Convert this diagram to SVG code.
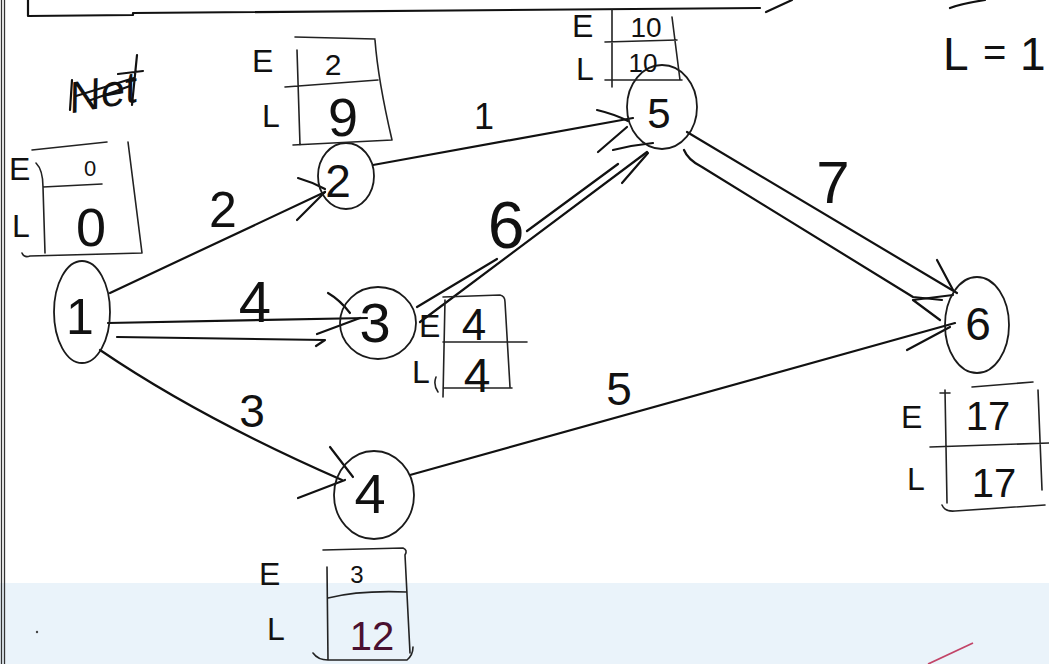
<svg xmlns="http://www.w3.org/2000/svg" width="1049" height="664" viewBox="0 0 1049 664">
  <defs>
    <style>
      .ink { fill: none; stroke: #111; stroke-width: 2.2; stroke-linecap: round; stroke-linejoin: round; }
      .thin { fill: none; stroke: #222; stroke-width: 1.6; stroke-linecap: round; stroke-linejoin: round; }
      .node { fill: none; stroke: #1a1a1a; stroke-width: 1.8; }
      text { font-family: "Liberation Sans", "DejaVu Sans", sans-serif; fill: #111; }
      .lbl { text-anchor: middle; }
      .let { font-size: 32px; }
    </style>
  </defs>

  <!-- page background and scanned lower band -->
  <rect x="0" y="0" width="1049" height="664" fill="#ffffff"/>
  <rect x="0" y="583" width="1049" height="81" fill="#eaf3fa"/>

  <!-- page frame fragments -->
  <g id="frame">
    <line x1="1.5" y1="0" x2="1.5" y2="664" stroke="#333" stroke-width="1.3"/>
    <line x1="4.5" y1="0" x2="4.5" y2="664" stroke="#333" stroke-width="1.3"/>
    <path class="ink" d="M28,0 L28,16 L133,15 L133,13 L760,8" stroke-width="2.6"/>
    <path class="ink" d="M766,12 L792,0"/>
    <line x1="928" y1="664" x2="973" y2="643" stroke="#c24468" stroke-width="1.8"/>
    <circle cx="37" cy="632" r="1.2" fill="#444"/>
  </g>

  <!-- crossed-out word -->
  <g id="note">
    <text x="68" y="108" font-size="44" font-style="italic" transform="rotate(-10 100 90)">Net</text>
    <path class="ink" d="M72,80 L70,110 M76,96 L134,78 M88,101 L130,86 M137,55 L132,105 M118,74 L143,71"/>
  </g>

  <!-- top-right notes, running off the page edge -->
  <g id="side-notes">
    <path class="ink" d="M950,8 Q960,4 985,0"/>
    <text x="943" y="70" font-size="46">L</text>
    <text x="983" y="66" font-size="40">=</text>
    <text x="1020" y="70" font-size="46">1</text>
  </g>

  <!-- connectors -->
  <g id="connectors">
    <!-- 1 -> 2 -->
    <path class="ink" d="M110,293 L325,192"/>
    <path class="ink" d="M298,178 Q312,182 325,189 M297,220 L325,192"/>
    <text class="lbl" x="223" y="227" font-size="50">2</text>

    <!-- 1 -> 3 (critical, double) -->
    <path class="ink" d="M108,323 L367,318"/>
    <path class="ink" d="M117,337 L325,340 L316,346"/>
    <path class="ink" d="M328,293 Q340,300 350,313 M317,334 L360,318"/>
    <text class="lbl" x="255" y="322" font-size="58">4</text>

    <!-- 1 -> 4 -->
    <path class="ink" d="M100,350 Q200,418 342,480"/>
    <path class="ink" d="M330,447 L353,477 M298,498 L345,480"/>
    <text class="lbl" x="252" y="427" font-size="46">3</text>

    <!-- 2 -> 5 -->
    <path class="ink" d="M373,165 L633,118"/>
    <path class="ink" d="M597,110 Q614,114 628,121"/>
    <text class="lbl" x="484" y="129" font-size="36">1</text>

    <!-- 3 -> 5 (critical, double) -->
    <path class="ink" d="M417,307 L497,259 M527,231 L618,164"/>
    <path class="ink" d="M420,322 L647,152"/>
    <path class="ink" d="M598,152 L627,127 M613,150 Q633,145 653,143 M622,183 L648,153"/>
    <text class="lbl" x="506" y="248" font-size="66">6</text>

    <!-- 5 -> 6 (critical, double) -->
    <path class="ink" d="M687,132 L957,293"/>
    <path class="ink" d="M684,150 Q688,160 702,167 L913,297 L942,300"/>
    <path class="ink" d="M937,260 L953,290 M913,300 L953,295 M913,300 L940,320"/>
    <text class="lbl" x="833" y="203" font-size="60">7</text>

    <!-- 4 -> 6 -->
    <path class="ink" d="M410,475 L955,323"/>
    <path class="ink" d="M907,350 L950,327"/>
    <text class="lbl" x="619" y="405" font-size="46">5</text>
  </g>

  <!-- event 1 -->
  <g id="node-1">
    <ellipse class="node" cx="82" cy="312" rx="28" ry="51"/>
    <text class="lbl" x="80" y="334" font-size="50">1</text>
    <path class="thin" d="M32,150 L107,142 M128,142 L142,253 M22,253 Q24,258 30,256 L142,253 M36,163 Q43,170 43,187 L45,253 M43,187 L102,184"/>
    <text class="let" x="9" y="180">E</text>
    <text class="lbl" x="90" y="176" font-size="22">0</text>
    <text class="let" x="12" y="237">L</text>
    <text class="lbl" x="91" y="246" font-size="54">0</text>
  </g>

  <!-- event 2 -->
  <g id="node-2">
    <ellipse class="node" cx="346" cy="176" rx="28" ry="33"/>
    <text class="lbl" x="338" y="197" font-size="46">2</text>
    <path class="thin" d="M295,37 L375,39 M375,40 Q378,80 392,140 M285,87 L378,80 M297,50 L300,145 M293,145 L392,140"/>
    <text class="let" x="252" y="72">E</text>
    <text class="lbl" x="333" y="75" font-size="30">2</text>
    <text class="let" x="262" y="127" font-size="28">L</text>
    <text class="lbl" x="343" y="136" font-size="54">9</text>
  </g>

  <!-- event 3 -->
  <g id="node-3">
    <ellipse class="node" cx="378" cy="323" rx="38" ry="36"/>
    <text class="lbl" x="375" y="342" font-size="56">3</text>
    <path class="thin" d="M443,297 L500,295 Q505,296 505,302 L510,387 M443,342 L527,342 M445,300 L443,397 M443,388 L512,388 M436,377 Q433,385 438,392"/>
    <text class="let" x="419" y="337" font-size="34">E</text>
    <text class="lbl" x="474" y="340" font-size="44">4</text>
    <text class="let" x="412" y="383" font-size="38">L</text>
    <text class="lbl" x="477" y="392" font-size="48">4</text>
  </g>

  <!-- event 4 -->
  <g id="node-4">
    <ellipse class="node" cx="374" cy="495" rx="40" ry="44"/>
    <text class="lbl" x="370" y="513" font-size="56">4</text>
    <path class="thin" d="M323,550 L403,548 Q408,550 405,555 L410,653 M328,598 Q360,590 407,592 M327,567 L328,660 M313,653 Q318,660 328,660 L407,660 Q413,655 413,647"/>
    <text class="let" x="259" y="585" font-size="34">E</text>
    <text class="lbl" x="357" y="583" font-size="24">3</text>
    <text class="let" x="267" y="640" font-size="36">L</text>
    <text class="lbl" x="372" y="650" font-size="40" style="fill:#4a1030">12</text>
  </g>

  <!-- event 5 -->
  <g id="node-5">
    <ellipse class="node" cx="662" cy="107" rx="35" ry="42"/>
    <text class="lbl" x="659" y="128" font-size="42">5</text>
    <path class="thin" d="M612,10 L612,87 M605,42 L677,40 M672,17 L680,80 M605,80 L682,80"/>
    <text class="let" x="572" y="37" font-size="26">E</text>
    <text class="lbl" x="646" y="37" font-size="28">10</text>
    <text class="let" x="576" y="80" font-size="30">L</text>
    <text class="lbl" x="643" y="72" font-size="26">10</text>
  </g>

  <!-- event 6 -->
  <g id="node-6">
    <ellipse class="node" cx="977" cy="325" rx="32" ry="48"/>
    <text class="lbl" x="978" y="340" font-size="46">6</text>
    <path class="thin" d="M945,390 L947,503 M940,393 L950,393 M972,387 L1033,382 M1038,390 L1042,490 M930,447 L1049,443 M942,505 Q945,512 955,511 L1045,505"/>
    <text class="let" x="901" y="428" font-size="36">E</text>
    <text class="lbl" x="988" y="430" font-size="40">17</text>
    <text class="let" x="907" y="490" font-size="34">L</text>
    <text class="lbl" x="994" y="497" font-size="40">17</text>
  </g>
</svg>
